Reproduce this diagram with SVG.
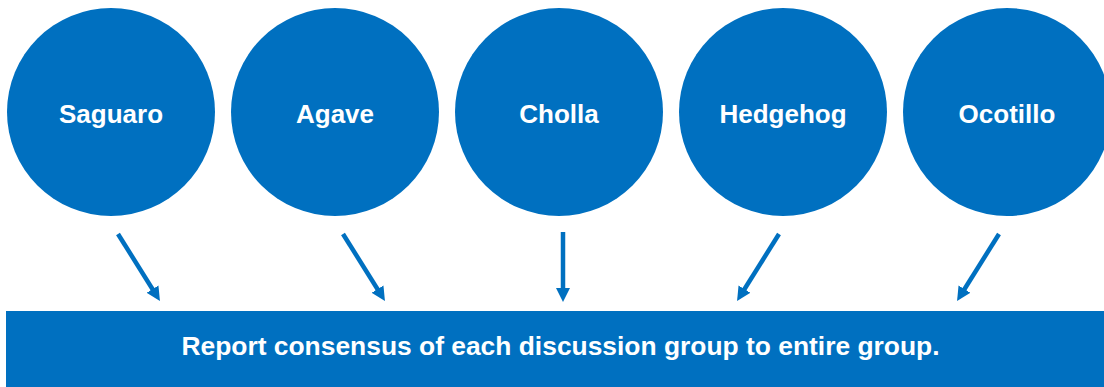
<svg xmlns="http://www.w3.org/2000/svg" width="1104" height="387" viewBox="0 0 1104 387">
<style>
.node{fill:#0070C0;}
.lbl{fill:#fff;font-family:"Liberation Sans",Arial,sans-serif;font-weight:bold;font-size:26px;text-anchor:middle;}
.conn{stroke:#0070C0;stroke-width:4.5;fill:none;marker-end:url(#ah);}
</style>
<defs>
<marker id="ah" markerUnits="userSpaceOnUse" markerWidth="14" markerHeight="14" viewBox="0 0 14 14" refX="6" refY="7" orient="auto">
<path d="M0,0 L14,7 L0,14 z" fill="#0070C0"/>
</marker>
</defs>
<rect width="1104" height="387" fill="#fff"/>
<g id="saguaro"><circle class="node" cx="111" cy="112" r="104"/><text class="lbl" x="111" y="123">Saguaro</text></g>
<g id="agave"><circle class="node" cx="335" cy="112" r="104"/><text class="lbl" x="335" y="123">Agave</text></g>
<g id="cholla"><circle class="node" cx="559" cy="112" r="104"/><text class="lbl" x="559" y="123">Cholla</text></g>
<g id="hedgehog"><circle class="node" cx="783" cy="112" r="104"/><text class="lbl" x="783" y="123">Hedgehog</text></g>
<g id="ocotillo"><circle class="node" cx="1007" cy="112" r="104"/><text class="lbl" x="1007" y="123">Ocotillo</text></g>
<g id="report"><rect class="node" x="6" y="311" width="1104" height="80"/><text class="lbl" x="560.5" y="355" style="font-size:26.4px">Report consensus of each discussion group to entire group.</text></g>
<g id="connectors">
<line class="conn" x1="118" y1="234" x2="155.7" y2="294.2"/>
<line class="conn" x1="343" y1="234" x2="380.7" y2="294.2"/>
<line class="conn" x1="563" y1="232" x2="563" y2="294"/>
<line class="conn" x1="779" y1="234" x2="741.3" y2="294.2"/>
<line class="conn" x1="999" y1="234" x2="961.3" y2="294.2"/>
</g>
</svg>
